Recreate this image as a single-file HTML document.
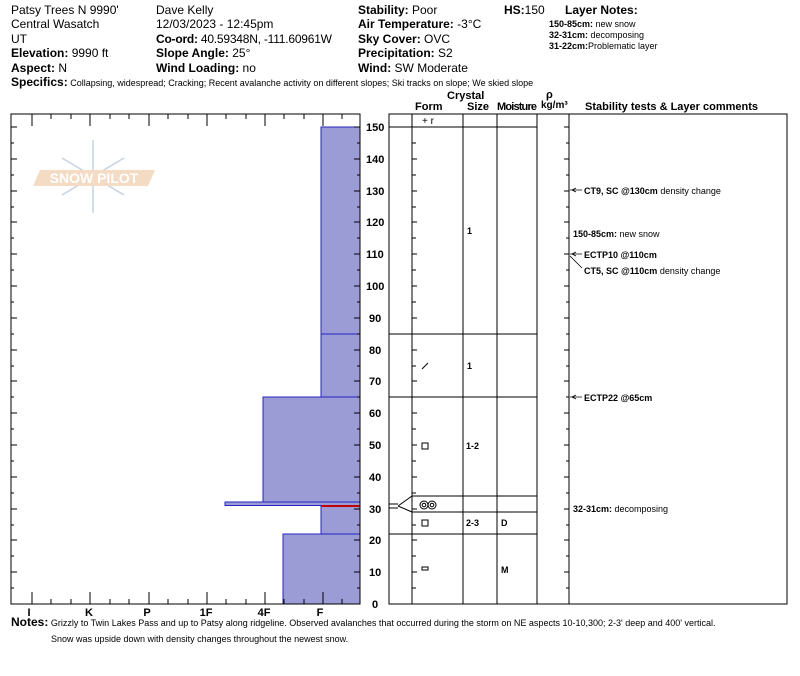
<!DOCTYPE html>
<html><head><meta charset="utf-8"><style>
body{margin:0;background:#fff;}
svg{display:block;font-family:"Liberation Sans",Arial,sans-serif;}
</style></head><body>
<svg width="800" height="676" viewBox="0 0 800 676" xmlns="http://www.w3.org/2000/svg">
<g font-size="12" fill="#000">
<text x="11" y="14">Patsy Trees N 9990'</text>
<text x="11" y="28">Central Wasatch</text>
<text x="11" y="43">UT</text>
<text x="11" y="57"><tspan font-weight="bold">Elevation:</tspan> 9990 ft</text>
<text x="11" y="72"><tspan font-weight="bold">Aspect:</tspan> N</text>
<text x="156" y="14">Dave Kelly</text>
<text x="156" y="28">12/03/2023 - 12:45pm</text>
<text x="156" y="43" textLength="176"><tspan font-weight="bold">Co-ord:</tspan> 40.59348N, -111.60961W</text>
<text x="156" y="57"><tspan font-weight="bold">Slope Angle:</tspan> 25°</text>
<text x="156" y="72"><tspan font-weight="bold">Wind Loading:</tspan> no</text>
<text x="358" y="14"><tspan font-weight="bold">Stability:</tspan> Poor</text>
<text x="358" y="28"><tspan font-weight="bold">Air Temperature:</tspan> -3°C</text>
<text x="358" y="43"><tspan font-weight="bold">Sky Cover:</tspan> OVC</text>
<text x="358" y="57"><tspan font-weight="bold">Precipitation:</tspan> S2</text>
<text x="358" y="72"><tspan font-weight="bold">Wind:</tspan>  SW Moderate</text>
<text x="504" y="14"><tspan font-weight="bold">HS:</tspan>150</text>
<text x="565" y="14" font-weight="bold">Layer Notes:</text>
</g>
<g font-size="9">
<text x="549" y="27"><tspan font-weight="bold">150-85cm:</tspan> new snow</text>
<text x="549" y="38"><tspan font-weight="bold">32-31cm:</tspan> decomposing</text>
<text x="549" y="49"><tspan font-weight="bold">31-22cm:</tspan>Problematic layer</text>
<text x="11" y="86"><tspan font-weight="bold" font-size="12">Specifics:</tspan> Collapsing, widespread; Cracking; Recent avalanche activity on different slopes; Ski tracks on slope; We skied slope</text>
</g>
<g font-size="11" font-weight="bold">
<text x="447" y="99">Crystal</text>
<text x="415" y="110">Form</text>
<text x="467" y="110">Size</text>
<text x="497" y="110" textLength="40">Moisture</text>
<text x="546" y="98">ρ</text>
<text x="541" y="108" font-size="10">kg/m³</text>
<text x="585" y="110">Stability tests &amp; Layer comments</text>
</g>
<!-- watermark -->
<g opacity="0.5">
<g stroke="#8fa6c0" stroke-width="1.5" fill="none">
<line x1="93" y1="140" x2="93" y2="213"/><line x1="62" y1="158" x2="124" y2="195"/><line x1="62" y1="195" x2="124" y2="158"/>
</g>
<polygon points="40,170 155,170 148,186 33,186" fill="#e9b98a"/>
<text x="94" y="183" font-size="14" fill="#fff" text-anchor="middle" font-weight="bold">SNOW PILOT</text>
</g>
<!-- bars -->
<g fill="#9b9bd6" stroke="#2626c0" stroke-width="1">
<rect x="321" y="127" width="39" height="207"/>
<rect x="321" y="334" width="39" height="63"/>
<rect x="263" y="397" width="97" height="105"/>
<rect x="225" y="502" width="135" height="3.5"/>
<rect x="321" y="505.5" width="39" height="28.5"/>
<rect x="283" y="534" width="77" height="70"/>
</g>
<line x1="321" y1="506" x2="360" y2="506" stroke="#c00000" stroke-width="2"/>
<!-- left frame -->
<rect x="11" y="114" width="349" height="490" fill="none" stroke="#000"/>
<g stroke="#000" stroke-width="1" fill="none">
<path d="M32 604v-12M90 604v-12M149 604v-12M207 604v-12M265 604v-12M323 604v-12M32 114v12M90 114v12M149 114v12M207 114v12M265 114v12M323 114v12
M51 604v-5M71 604v-5M110 604v-5M129 604v-5M168 604v-5M188 604v-5M226 604v-5M246 604v-5M284 604v-5M304 604v-5M342 604v-5
M51 114v5M71 114v5M110 114v5M129 114v5M168 114v5M188 114v5M226 114v5M246 114v5M284 114v5M304 114v5M342 114v5"/>
</g>
<g font-size="11" font-weight="bold" text-anchor="middle">
<text x="29" y="616">I</text><text x="89" y="616">K</text><text x="147" y="616">P</text><text x="206" y="616">1F</text><text x="264" y="616">4F</text><text x="320" y="616">F</text>
</g>
<g stroke="#000" fill="none">
<path d="M11 127h6M11 159h6M11 191h6M11 222h6M11 254h6M11 286h6M11 318h6M11 350h6M11 381h6M11 413h6M11 445h6M11 477h6M11 509h6M11 540h6M11 572h6
M11 143h3M11 175h3M11 207h3M11 238h3M11 270h3M11 302h3M11 334h3M11 366h3M11 397h3M11 429h3M11 461h3M11 493h3M11 525h3M11 556h3M11 588h3
M360 127h-6M360 159h-6M360 191h-6M360 222h-6M360 254h-6M360 286h-6M360 318h-6M360 350h-6M360 381h-6M360 413h-6M360 445h-6M360 477h-6M360 509h-6M360 540h-6M360 572h-6
M360 143h-3M360 175h-3M360 207h-3M360 238h-3M360 270h-3M360 302h-3M360 334h-3M360 366h-3M360 397h-3M360 429h-3M360 461h-3M360 493h-3M360 525h-3M360 556h-3M360 588h-3"/>
</g>
<g font-size="11" font-weight="bold">
<text x="366" y="131">150</text><text x="366" y="163">140</text><text x="366" y="195">130</text><text x="366" y="226">120</text><text x="366" y="258">110</text><text x="366" y="290">100</text>
<text x="369" y="322">90</text><text x="369" y="354">80</text><text x="369" y="385">70</text><text x="369" y="417">60</text><text x="369" y="449">50</text><text x="369" y="481">40</text><text x="369" y="513">30</text><text x="369" y="544">20</text><text x="369" y="576">10</text><text x="372" y="608">0</text>
</g>
<!-- right table -->
<rect x="389" y="114" width="398" height="490" fill="none" stroke="#000"/>
<g stroke="#000" fill="none">
<path d="M412 114V604M463 114V604M497 114V604M537 114V604M569 114V604"/>
<path d="M389 127H537M389 334H537M389 397H537M412 496H537M412 512H537M389 534H537M398 506L412 496M398 506L412 512M389 504H398M389 508H398"/>
<path d="M412 143h4M412 159h5M412 175h4M412 191h5M412 207h4M412 222h5M412 238h4M412 254h5M412 270h4M412 286h5M412 302h4M412 318h5M412 334h4M412 350h5M412 366h4M412 381h5M412 397h4M412 413h5M412 429h4M412 445h5M412 461h4M412 477h5M412 493h4M412 509h5M412 525h4M412 540h5M412 556h4M412 572h5M412 588h4"/>
<path d="M569 127h-5M569 143h-3M569 159h-5M569 175h-3M569 191h-5M569 207h-3M569 222h-5M569 238h-3M569 254h-5M569 270h-3M569 286h-5M569 302h-3M569 318h-5M569 334h-3M569 350h-5M569 366h-3M569 381h-5M569 397h-3M569 413h-5M569 429h-3M569 445h-5M569 461h-3M569 477h-5M569 493h-3M569 509h-5M569 525h-3M569 540h-5M569 556h-3M569 572h-5M569 588h-3"/>
<path d="M570 190h12M570 254h12M570 256l12 12M570 397h12M572 190l4-2M572 190l4 2M572 254l4-2M572 254l4 2M572 397l4-2M572 397l4 2" stroke-width="0.8"/>
<path d="M422 369l6-6"/>
<rect x="422" y="443" width="6" height="6"/>
<rect x="422" y="520" width="6" height="6"/>
<rect x="422" y="567" width="6" height="3"/>
<circle cx="424" cy="505" r="4"/><circle cx="424" cy="505" r="1.8"/>
<circle cx="432" cy="505" r="4"/><circle cx="432" cy="505" r="1.8"/>
</g>
<g font-size="9" font-weight="bold">
<text x="422" y="124" font-weight="normal" font-size="10">+ r</text>
<text x="467" y="234">1</text><text x="467" y="369">1</text><text x="466" y="449">1-2</text><text x="466" y="526">2-3</text>
<text x="501" y="526">D</text><text x="501" y="573">M</text>
<text x="584" y="194">CT9, SC @130cm <tspan font-weight="normal">density change</tspan></text>
<text x="573" y="237">150-85cm: <tspan font-weight="normal">new snow</tspan></text>
<text x="584" y="258">ECTP10 @110cm</text>
<text x="584" y="274">CT5, SC @110cm  <tspan font-weight="normal">density change</tspan></text>
<text x="584" y="401">ECTP22 @65cm</text>
<text x="573" y="512">32-31cm: <tspan font-weight="normal">decomposing</tspan></text>
</g>
<g font-size="9">
<text x="11" y="626"><tspan font-weight="bold" font-size="12">Notes:</tspan> Grizzly to Twin Lakes Pass and up to Patsy along ridgeline. Observed avalanches that occurred during the storm on NE aspects 10-10,300; 2-3' deep and 400' vertical.</text>
<text x="51" y="642">Snow was upside down with density changes throughout the newest snow.</text>
</g>
</svg>
</body></html>
